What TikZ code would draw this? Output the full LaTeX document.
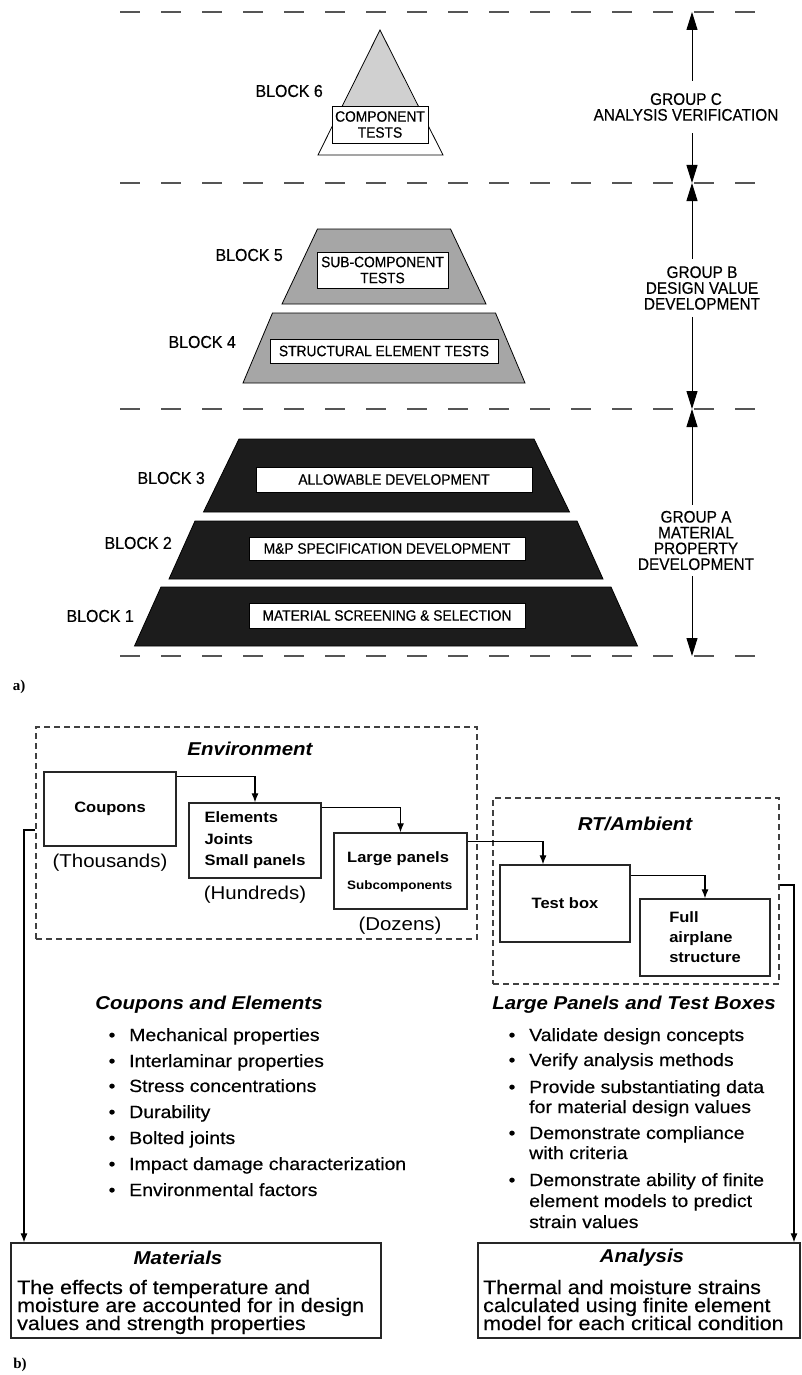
\documentclass[tikz,border=0pt]{standalone}
\usepackage{fontspec}
\setmainfont{Liberation Sans}
\newfontfamily\cnd[FakeStretch=0.92,FakeBold=0.4]{Liberation Sans}
\newfontfamily\wde[FakeStretch=1.1]{Liberation Sans}
\newfontfamily\wdr[FakeStretch=1.1,FakeBold=0.4]{Liberation Sans}
\newfontfamily\srf{Liberation Serif}
\usetikzlibrary{arrows.meta}
\definecolor{lgray}{HTML}{D0D0D0}
\definecolor{mgray}{HTML}{A6A6A6}
\definecolor{dgray}{HTML}{1C1C1C}
\definecolor{dline}{HTML}{555555}
\tikzset{
 levelline/.style={dline, line width=1.8pt, dash pattern=on 20pt off 21pt},
 blk/.style={draw=black, line width=0.8pt},
 inbox/.style={draw=black, fill=white, line width=0.9pt, inner sep=0pt, align=center, font=\cnd\fontsize{15}{16}\selectfont},
 blabel/.style={anchor=east, inner sep=0pt, font=\cnd\fontsize{17.3}{17}\selectfont},
 glabel/.style={align=center, inner xsep=0pt, font=\cnd\fontsize{16.7}{15.8}\selectfont},
 bigarrow/.style={line width=1pt, -{Triangle[length=18pt,width=11pt]}},
 pbox/.style={draw=black!85, line width=1.3pt, inner sep=0pt, align=left, font=\wde\bfseries\fontsize{15}{21.5}\selectfont},
 dbox/.style={draw=black!75, line width=1.3pt, dash pattern=on 6pt off 4pt, inner sep=0pt},
 conn/.style={line width=1.1pt, -{Latex[length=9pt,width=7pt]}},
 cnt/.style={inner sep=0pt, font=\wde\fontsize{18.6}{20}\selectfont},
 hd/.style={inner sep=0pt, font=\wde\bfseries\itshape\fontsize{18.6}{20}\selectfont},
 btxt/.style={inner sep=0pt, anchor=base west, font=\wdr\fontsize{17.7}{20}\selectfont},
 bdot/.style={inner sep=0pt, anchor=base, font=\wdr\fontsize{17.7}{20}\selectfont},
 body/.style={inner sep=0pt, anchor=base west, font=\wdr\fontsize{19.5}{18}\selectfont},
 sublbl/.style={inner sep=0pt, font=\srf\bfseries\fontsize{15}{16}\selectfont}
}
\newcommand\bitem[4]{\node[bdot] (#4d) at (#1,#2) {•};\node[btxt] (#4) at (#1+17,#2) {#3};}
\newcommand\bcont[4]{\node[btxt] (#4) at (#1+17,#2) {#3};}
\begin{document}
\begin{tikzpicture}[x=1pt,y=-1pt]
\useasboundingbox (0,0) rectangle (802,1375);
% ---------------- part a ----------------
\coordinate (L1) at (692,12);
\coordinate (L2) at (692,183);
\coordinate (L3) at (692,409);
\coordinate (L4) at (692,656);
\foreach \yy in {12,183,409,656} \draw[levelline] (120,\yy) -- (763,\yy);

\fill[white] (380,30) -- (443,155) -- (318,155) -- cycle;
\fill[lgray] (380,30) -- (417.7,106) -- (342.3,106) -- cycle;
\draw[blk] (380,30) -- (443,155) -- (318,155) -- cycle;
\filldraw[blk, fill=mgray] (317.5,229) -- (450.5,229) -- (486,304) -- (282,304) -- cycle;
\filldraw[blk, fill=mgray] (272.5,313) -- (495.5,313) -- (525,383) -- (243,383) -- cycle;
\filldraw[blk, fill=dgray] (239,439) -- (534,439) -- (569.5,512) -- (203.5,512) -- cycle;
\filldraw[blk, fill=dgray] (195,521) -- (577,521) -- (603,579) -- (169,579) -- cycle;
\filldraw[blk, fill=dgray] (161,587) -- (611,587) -- (637.5,646) -- (134.5,646) -- cycle;

\node[inbox, minimum width=96pt, minimum height=37pt] (b6) at (380,124.5) {COMPONENT\\TESTS};
\node[inbox, minimum width=131pt, minimum height=36pt] (b5) at (382.5,270) {SUB-COMPONENT\\TESTS};
\node[inbox, minimum width=228pt, minimum height=24pt] (b4) at (384,351) {STRUCTURAL ELEMENT TESTS};
\node[inbox, minimum width=276pt, minimum height=25pt] (b3) at (394,479.5) {ALLOWABLE DEVELOPMENT};
\node[inbox, minimum width=276pt, minimum height=23pt] (b2) at (387,548.5) {M\&P SPECIFICATION DEVELOPMENT};
\node[inbox, minimum width=276pt, minimum height=25pt] (b1) at (387,615.5) {MATERIAL SCREENING \& SELECTION};

\node[blabel] (l6) at (323,91) {BLOCK 6};
\node[blabel] (l5) at (283,255) {BLOCK 5};
\node[blabel] (l4) at (236,342) {BLOCK 4};
\node[blabel] (l3) at (205,478) {BLOCK 3};
\node[blabel] (l2) at (172,543) {BLOCK 2};
\node[blabel] (l1) at (134,616) {BLOCK 1};

\node[glabel, inner ysep=12pt] (gC) at (686,107) {GROUP C\\ANALYSIS VERIFICATION};
\node[glabel, inner ysep=7pt] (gB) at (702,288) {GROUP B\\DESIGN VALUE\\DEVELOPMENT};
\node[glabel, inner ysep=6pt] (gA) at (696,540.5) {GROUP A\\MATERIAL\\PROPERTY\\DEVELOPMENT};
\draw[bigarrow] (gC.north -| L1) -- (L1);
\draw[bigarrow] (gC.south -| L2) -- (L2);
\draw[bigarrow] (gB.north -| L2) -- (L2);
\draw[bigarrow] (gB.south -| L3) -- (L3);
\draw[bigarrow] (gA.north -| L3) -- (L3);
\draw[bigarrow] (gA.south -| L4) -- (L4);

\node[sublbl] (la) at (19,687) {a)};
% ---------------- part b ----------------
\node[dbox, minimum width=441pt, minimum height=212pt] (env) at (256.5,833) {};
\node[dbox, minimum width=286pt, minimum height=186pt] (rt) at (636,891) {};
\node[hd] (envl) at (250,749) {Environment};
\node[hd] (rtl) at (635,824) {RT/Ambient};

\node[pbox, minimum width=132pt, minimum height=74pt] (coupons) at (110,809) {Coupons};
\node[pbox, minimum width=132pt, minimum height=75pt] (elements) at (255,840.5) {Elements\\Joints\\Small panels};
\node[pbox, minimum width=133pt, minimum height=76pt] (large) at (400.5,871) {};
\node[inner sep=0pt, anchor=west, font=\wde\bfseries\fontsize{15}{18}\selectfont] (lp1) at (347,859) {Large panels};
\node[inner sep=0pt, anchor=west, font=\wde\bfseries\fontsize{12.2}{14}\selectfont] (lp2) at (347,886) {Subcomponents};
\node[pbox, minimum width=130pt, minimum height=77pt] (testbox) at (565,903.5) {Test box};
\node[pbox, minimum width=130pt, minimum height=77pt, font=\wde\bfseries\fontsize{15}{20}\selectfont] (full) at (705,937.5) {Full\\airplane\\structure};

\node[cnt] (thous) at (110,863) {(Thousands)};
\node[cnt] (hund) at (255,895) {(Hundreds)};
\node[cnt] (doz) at (400,926) {(Dozens)};

\draw[conn] ([yshift=-5pt]coupons.north east) -| (elements.north);
\draw[conn] ([yshift=-5pt]elements.north east) -| (large.north);
\draw[conn] ([yshift=-9pt]large.north east) -| ([xshift=-22pt]testbox.north);
\draw[conn] ([yshift=-11pt]testbox.north east) -| (full.north);

\node[hd] (hce) at (209,1005) {Coupons and Elements};
\node[hd] (hlp) at (634,1005) {Large Panels and Test Boxes};

\bitem{112}{1041}{Mechanical properties}{c1}
\bitem{112}{1067}{Interlaminar properties}{c2}
\bitem{112}{1092}{Stress concentrations}{c3}
\bitem{112}{1118}{Durability}{c4}
\bitem{112}{1144}{Bolted joints}{c5}
\bitem{112}{1170}{Impact damage characterization}{c6}
\bitem{112}{1196}{Environmental factors}{c7}

\bitem{512}{1041}{Validate design concepts}{r1}
\bitem{512}{1066}{Verify analysis methods}{r2}
\bitem{512}{1093}{Provide substantiating data}{r3}
\bcont{512}{1113}{for material design values}{r3b}
\bitem{512}{1139}{Demonstrate compliance}{r4}
\bcont{512}{1159}{with criteria}{r4b}
\bitem{512}{1186}{Demonstrate ability of finite}{r5}
\bcont{512}{1207}{element models to predict}{r5b}
\bcont{512}{1228}{strain values}{r5c}

\node[pbox, minimum width=370pt, minimum height=95pt] (materials) at (196,1290.5) {};
\node[pbox, minimum width=322pt, minimum height=95pt] (analysis) at (639,1290.5) {};
\node[hd] (mt) at (178,1258) {Materials};
\node[hd] (at) at (642,1258) {Analysis};
\node[body] (m1) at (17,1294) {The effects of temperature and};
\node[body] (m2) at (17,1312) {moisture are accounted for in design};
\node[body] (m3) at (17,1330) {values and strength properties};
\node[body] (a1) at (483,1294) {Thermal and moisture strains};
\node[body] (a2) at (483,1312) {calculated using finite element};
\node[body] (a3) at (483,1330) {model for each critical condition};

\coordinate (lc) at (24,830);
\coordinate (rc) at (794,885);
\draw[conn] (env.west |- lc) -- (lc) -- (lc |- materials.north);
\draw[conn] (rt.east |- rc) -- (rc) -- (rc |- analysis.north);

\node[sublbl] (lb) at (20,1365) {b)};
\end{tikzpicture}
\end{document}
